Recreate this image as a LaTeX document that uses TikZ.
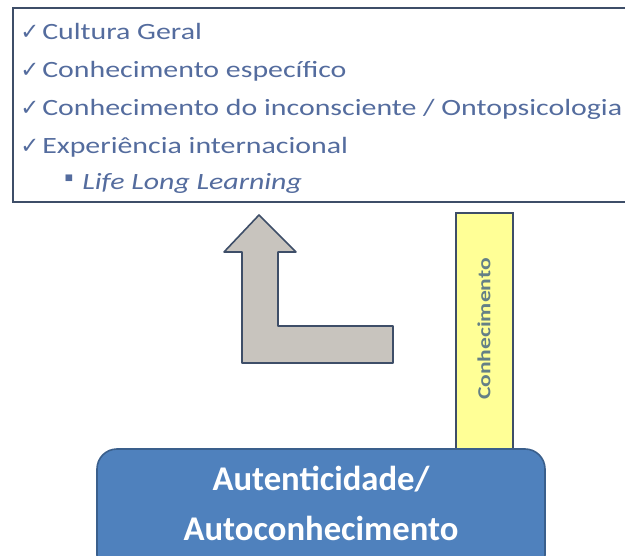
\documentclass[tikz,border=0pt]{standalone}
\usepackage{fontspec}
\setmainfont{Carlito}
\newfontfamily\listfont[FakeStretch=1.28]{Carlito}
\newfontfamily\symfont{DejaVu Sans}
\usepackage{xcolor}
\usetikzlibrary{positioning,calc}

\definecolor{listblue}{RGB}{84,108,158}
\definecolor{frameline}{RGB}{62,78,104}
\definecolor{arrowgray}{RGB}{200,196,190}
\definecolor{baryellow}{RGB}{255,255,150}
\definecolor{bartext}{RGB}{100,128,134}
\definecolor{basefill}{RGB}{79,129,189}
\definecolor{baseline}{RGB}{58,95,140}

\tikzset{
  listline/.style={anchor=base west, inner sep=0pt, text=listblue, font=\listfont\fontsize{17.5}{21}\selectfont},
  tick/.style={anchor=base west, inner sep=0pt, text=listblue, font=\symfont\fontsize{17}{20}\selectfont},
  barbox/.style={draw=frameline, line width=1.2pt, fill=baryellow, minimum width=42.75pt, minimum height=177pt, inner sep=0pt},
  basebox/.style={draw=baseline, line width=1.2pt, fill=basefill, rounded corners=15pt, minimum width=336pt, minimum height=94.5pt},
  basetext/.style={text=white, align=center, inner sep=0pt, font=\bfseries\fontsize{26}{37.5}\selectfont}
}

\begin{document}
\begin{tikzpicture}[x=0.75pt, y=-0.75pt]
    \useasboundingbox (0,0) rectangle (625,556);
    \clip (0,0) rectangle (625,556);

    % list frame
    \draw [frameline, line width=1.4pt] (13,8) rectangle (640,202);
    \foreach \txt [count=\i from 0] in {Cultura Geral, Conhecimento específico,
        Conhecimento do inconsciente / Ontopsicologia, Experiência internacional} {
      \node [tick] (tick\i) at (20,{40+37.7*\i}) {✓};
      \node [listline] (item\i) at (42,{40+37.7*\i}) {\txt};
    }
    \node [tick, anchor=center, font=\symfont\fontsize{6.5}{8}\selectfont] (dot) at (69,178) {■};
    \node [listline, font=\listfont\itshape\fontsize{17.5}{21}\selectfont] (lll) at (82,190) {Life Long Learning};

    % bent arrow
    \draw [fill=arrowgray, draw=frameline, line width=1.2pt, line join=round]
      (259,215) -- (296,252) -- (278,252) -- (278,326) -- (393,326)
      -- (393,363) -- (242,363) -- (242,252) -- (224,252) -- cycle;

    % yellow bar
    \node [barbox] (bar) at (484.5,331) {};
    \node [rotate=90, text=bartext, font=\listfont\bfseries\fontsize{13.8}{16}\selectfont] (know) at (484,329) {Conhecimento};

    % base box
    \node [basebox] (base) at (321,512) {};
    \node [basetext] (basetxt) at (321,503) {Autenticidade/\\Autoconhecimento};
\end{tikzpicture}
\end{document}
